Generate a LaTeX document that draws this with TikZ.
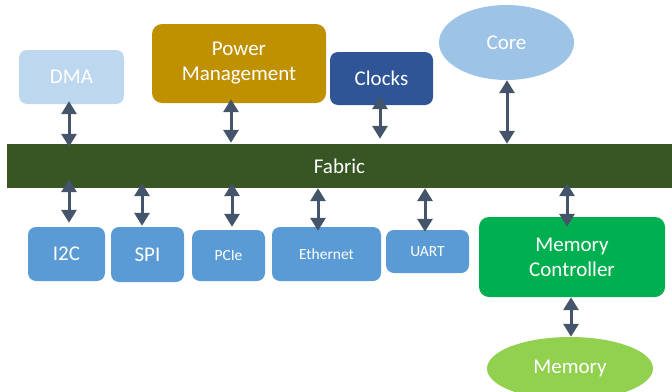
\documentclass[tikz,border=0pt]{standalone}
\usepackage{fontspec}
\setmainfont{Carlito}
\usepackage{xcolor}
\usetikzlibrary{arrows.meta, positioning, shapes.geometric}

\definecolor{dmaBlue}{HTML}{BDD7EE}
\definecolor{powerGold}{HTML}{BF9000}
\definecolor{clockBlue}{HTML}{2F5597}
\definecolor{coreBlue}{HTML}{9DC3E6}
\definecolor{fabricGreen}{HTML}{375623}
\definecolor{ioBlue}{HTML}{5B9BD5}
\definecolor{ctrlGreen}{HTML}{00B050}
\definecolor{memGreen}{HTML}{92D050}
\definecolor{arrowGrey}{HTML}{44546A}

\def\bigFont{\fontsize{21}{25}\selectfont}
\def\smallFont{\fontsize{15.5}{18}\selectfont}

\tikzset{
    block/.style={rectangle, rounded corners=8pt, text=white, align=center, inner sep=0pt, font=\bigFont},
    blob/.style={ellipse, text=white, inner sep=0pt, font=\bigFont},
    biarrow/.style={{Triangle[width=15pt,length=13pt]}-{Triangle[width=15pt,length=13pt]}, line width=3pt, draw=arrowGrey},
}

\begin{document}
\begin{tikzpicture}[x=1pt, y=-1pt]
            \useasboundingbox (0,0) rectangle (672,391);

            % Draw top blocks
            \node[block, fill=dmaBlue, minimum width=105pt, minimum height=54pt] (dma) at (71.5,77) {DMA};
            \node[block, fill=powerGold, minimum width=174pt, minimum height=79pt, rounded corners=10pt] (power) at (239,63.5) {Power\\Management};
            \node[block, fill=clockBlue, minimum width=103pt, minimum height=53pt] (clocks) at (381.5,78.5) {Clocks};
            \node[blob, fill=coreBlue, minimum width=135pt, minimum height=75pt] (core) at (506.5,42.5) {Core};

            % Draw fabric
            \node[rectangle, fill=fabricGreen, text=white, font=\bigFont, minimum width=665pt, minimum height=44pt] (fabric) at (339.5,166) {Fabric};

            % Draw peripherals
            \foreach \name/\label/\fnt/\cx/\cy/\w/\h in {i2c/I2C/\bigFont/66.5/254/77/54,
                                                      spi/SPI/\bigFont/147.5/254.5/73/55,
                                                      pcie/PCIe/\smallFont/228.5/255.5/73/51,
                                                      eth/Ethernet/\smallFont/326.5/254/109/54,
                                                      uart/UART/\smallFont/427.5/251.5/83/43} {
                \node[block, fill=ioBlue, font=\fnt, minimum width=\w pt, minimum height=\h pt] (\name) at (\cx,\cy) {\label};
            }

            % Draw memory side
            \node[block, fill=ctrlGreen, minimum width=186pt, minimum height=80pt, rounded corners=10pt] (mc) at (572,257) {Memory\\Controller};
            \node[blob, fill=memGreen, minimum width=166pt, minimum height=63pt] (memory) at (570,368.5) {Memory};

            % Draw arrows to fabric
            \foreach \name/\ax/\sa/\sb in {dma/69/-3/-3, power/231/-4/1, clocks/380/-9/5, core/507/0/0} {
                \draw[biarrow, shorten <=\sa pt, shorten >=\sb pt] (\name.south -| \ax,0) -- (fabric.north -| \ax,0);
            }
            \foreach \name/\ax/\sa/\sb in {i2c/69/-9/4, spi/142/-5/1, pcie/232/-5/3, eth/318/0/-4, uart/425/0/-2, mc/567/-5/-10} {
                \draw[biarrow, shorten <=\sa pt, shorten >=\sb pt] (fabric.south -| \ax,0) -- (\name.north -| \ax,0);
            }
            \draw[biarrow] (mc.south -| 571,0) -- (memory.north -| 571,0);

        \end{tikzpicture}
\end{document}
